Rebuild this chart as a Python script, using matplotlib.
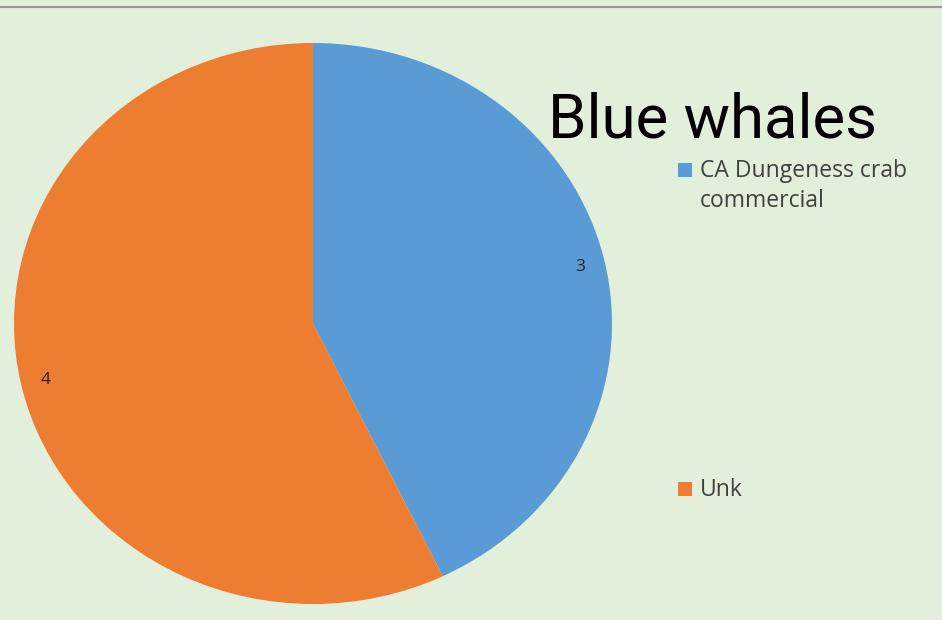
import matplotlib
matplotlib.use("Agg")
import matplotlib.pyplot as plt
from matplotlib.patches import Rectangle
from matplotlib.lines import Line2D

# dati
categories = ["CA Dungeness crab\ncommercial", "Unk"]
values = [3, 4]
colors = ["#5B9BD5", "#ED7D31"]
title = "Blue whales"

bg = "#E2EFDA"
W, H = 942, 620

fig = plt.figure(figsize=(W / 100, H / 100), dpi=100, facecolor=bg)

# linea grigia in alto
fig.add_artist(Line2D([0, 1], [1 - 7 / H, 1 - 7 / H], color="#9A9A9A", lw=1.5,
                      transform=fig.transFigure))

# area della torta (ellisse leggermente schiacciata come nell'originale)
ax = fig.add_axes([14 / W, 16 / H, 598 / W, 561 / H])
ax.set_facecolor(bg)
wedges, texts = ax.pie(values, colors=colors, startangle=90, counterclock=False,
                       labels=[str(v) for v in values], labeldistance=0.9,
                       textprops=dict(fontsize=12.5, color="#222222", family="Open Sans"),
                       wedgeprops=dict(linewidth=0))
ax.set_aspect("auto")
ax.set_xlim(-1, 1)
ax.set_ylim(-1, 1)
ax.axis("off")

# titolo
fig.text(548 / W, 1 - 137 / H, title, fontsize=44.5, family="Roboto",
         color="black", va="baseline", ha="left")

# legenda manuale (voci molto distanti tra loro)
legend_y = [170, 489]
for lab, col, y in zip(categories, colors, legend_y):
    fig.add_artist(Rectangle((678 / W, 1 - (y + 7) / H), 14 / W, 14 / H,
                             facecolor=col, edgecolor="none", transform=fig.transFigure))
    fig.text(700 / W, 1 - (y - 11) / H, lab, fontsize=16.5, family="Open Sans",
             color="#404040", va="top", ha="left", linespacing=1.35)

fig.savefig("out.png", dpi=100, facecolor=bg)
